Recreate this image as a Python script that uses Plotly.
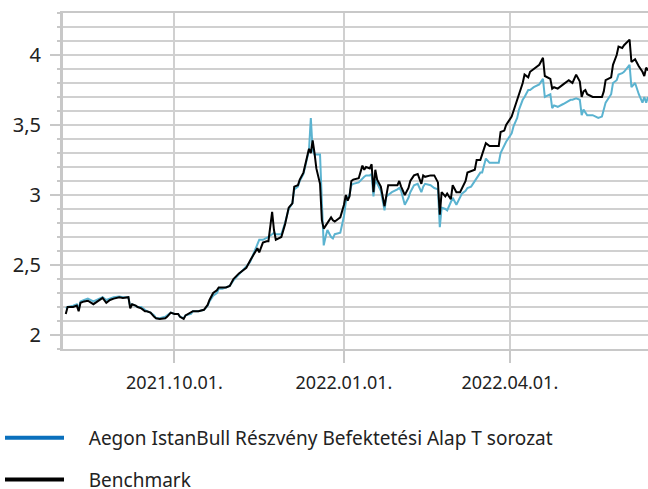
import plotly.graph_objects as go

dates = [
    "2021-08-03", "2021-08-04", "2021-08-07", "2021-08-09", "2021-08-10", "2021-08-11", "2021-08-13",
    "2021-08-15", "2021-08-18", "2021-08-21", "2021-08-23", "2021-08-25", "2021-08-27", "2021-08-29",
    "2021-09-01", "2021-09-03", "2021-09-06", "2021-09-07", "2021-09-08", "2021-09-10", "2021-09-11",
    "2021-09-13", "2021-09-15", "2021-09-16", "2021-09-18", "2021-09-20", "2021-09-21", "2021-09-23",
    "2021-09-26", "2021-09-27", "2021-09-29", "2021-10-01", "2021-10-03", "2021-10-04", "2021-10-06",
    "2021-10-07", "2021-10-10", "2021-10-11", "2021-10-14", "2021-10-17", "2021-10-19", "2021-10-20",
    "2021-10-22", "2021-10-24", "2021-10-25", "2021-10-27", "2021-10-29", "2021-10-31", "2021-11-02",
    "2021-11-05", "2021-11-07", "2021-11-09", "2021-11-11", "2021-11-13", "2021-11-15", "2021-11-16",
    "2021-11-18", "2021-11-20", "2021-11-21", "2021-11-23", "2021-11-24", "2021-11-25", "2021-11-28",
    "2021-11-30", "2021-12-02", "2021-12-04", "2021-12-05", "2021-12-07", "2021-12-08", "2021-12-10",
    "2021-12-12", "2021-12-13", "2021-12-14", "2021-12-15", "2021-12-16", "2021-12-17", "2021-12-19",
    "2021-12-20", "2021-12-21", "2021-12-22", "2021-12-23", "2021-12-25", "2021-12-26", "2021-12-27",
    "2021-12-29", "2021-12-30", "2022-01-01", "2022-01-02", "2022-01-03", "2022-01-04", "2022-01-05",
    "2022-01-06", "2022-01-09", "2022-01-11", "2022-01-12", "2022-01-13", "2022-01-15", "2022-01-16",
    "2022-01-17", "2022-01-18", "2022-01-19", "2022-01-21", "2022-01-23", "2022-01-24", "2022-01-25",
    "2022-01-27", "2022-01-30", "2022-01-31", "2022-02-01", "2022-02-03", "2022-02-05", "2022-02-06",
    "2022-02-08", "2022-02-10", "2022-02-12", "2022-02-13", "2022-02-14", "2022-02-17", "2022-02-19",
    "2022-02-21", "2022-02-22", "2022-02-23", "2022-02-25", "2022-02-26", "2022-02-28", "2022-03-01",
    "2022-03-03", "2022-03-05", "2022-03-06", "2022-03-08", "2022-03-09", "2022-03-11", "2022-03-13",
    "2022-03-14", "2022-03-16", "2022-03-17", "2022-03-19", "2022-03-21", "2022-03-23", "2022-03-26",
    "2022-03-27", "2022-03-29", "2022-03-30", "2022-04-02", "2022-04-03", "2022-04-05", "2022-04-06",
    "2022-04-08", "2022-04-09", "2022-04-11", "2022-04-12", "2022-04-14", "2022-04-17", "2022-04-19",
    "2022-04-20", "2022-04-23", "2022-04-24", "2022-04-25", "2022-04-27", "2022-04-30", "2022-05-03",
    "2022-05-04", "2022-05-05", "2022-05-07", "2022-05-09", "2022-05-10", "2022-05-11", "2022-05-12",
    "2022-05-13", "2022-05-16", "2022-05-19", "2022-05-21", "2022-05-22", "2022-05-23", "2022-05-26",
    "2022-05-27", "2022-05-29", "2022-05-30", "2022-06-01", "2022-06-02", "2022-06-05", "2022-06-06",
    "2022-06-08", "2022-06-09", "2022-06-10", "2022-06-12", "2022-06-13", "2022-06-14", "2022-06-15",
]

benchmark = [
    2.15, 2.20, 2.20, 2.21, 2.17, 2.23, 2.24,
    2.245, 2.22, 2.25, 2.265, 2.23, 2.25, 2.26,
    2.27, 2.265, 2.27, 2.19, 2.22, 2.21, 2.20,
    2.19, 2.17, 2.17, 2.16, 2.13, 2.12, 2.115,
    2.12, 2.13, 2.16, 2.15, 2.15, 2.13, 2.115,
    2.14, 2.16, 2.17, 2.17, 2.18, 2.215, 2.25,
    2.30, 2.32, 2.34, 2.34, 2.34, 2.35, 2.40,
    2.44, 2.46, 2.48, 2.53, 2.58, 2.62, 2.59,
    2.66, 2.67, 2.67, 2.88, 2.75, 2.68, 2.70,
    2.79, 2.91, 2.94, 3.06, 3.07, 3.11, 3.16,
    3.27, 3.33, 3.30, 3.39, 3.30, 3.19, 3.08,
    2.82, 2.76, 2.78, 2.80, 2.84, 2.82, 2.81,
    2.83, 2.84, 2.93, 3.00, 2.96, 2.99, 3.10,
    3.11, 3.12, 3.21, 3.18, 3.20, 3.19, 3.22,
    3.02, 3.18, 3.11, 3.06, 2.92, 3.00, 3.07,
    3.07, 3.07, 3.10, 3.06, 3.00, 3.05, 3.10,
    3.14, 3.15, 3.08, 3.14, 3.13, 3.14, 3.14,
    3.09, 2.86, 3.02, 2.99, 3.01, 2.97, 3.07,
    3.02, 3.02, 3.05, 3.10, 3.16, 3.17, 3.18,
    3.25, 3.25, 3.29, 3.37, 3.35, 3.35, 3.35,
    3.45, 3.46, 3.50, 3.56, 3.60, 3.68, 3.73,
    3.80, 3.86, 3.84, 3.88, 3.90, 3.93, 3.98,
    3.85, 3.83, 3.76, 3.77, 3.76, 3.79, 3.82,
    3.81, 3.80, 3.86, 3.81, 3.70, 3.74, 3.75,
    3.72, 3.70, 3.70, 3.70, 3.74, 3.82, 3.84,
    3.93, 4.00, 4.06, 4.05, 4.07, 4.11, 3.95,
    3.97, 3.94, 3.92, 3.88, 3.85, 3.91, 3.89,
]

fund = [
    2.19, 2.20, 2.21, 2.22, 2.19, 2.24, 2.25,
    2.26, 2.24, 2.26, 2.27, 2.25, 2.26, 2.27,
    2.275, 2.27, 2.27, 2.20, 2.22, 2.21, 2.20,
    2.20, 2.18, 2.17, 2.16, 2.14, 2.12, 2.12,
    2.13, 2.14, 2.16, 2.15, 2.15, 2.13, 2.12,
    2.14, 2.15, 2.17, 2.17, 2.18, 2.21, 2.24,
    2.28, 2.30, 2.33, 2.33, 2.34, 2.35, 2.39,
    2.43, 2.46, 2.49, 2.52, 2.58, 2.65, 2.68,
    2.68, 2.69, 2.70, 2.72, 2.73, 2.72, 2.72,
    2.80, 2.90, 2.94, 3.04, 3.06, 3.10, 3.15,
    3.26, 3.32, 3.55, 3.32, 3.29, 3.29, 3.29,
    2.95, 2.64, 2.70, 2.75, 2.70, 2.69, 2.72,
    2.73, 2.73, 2.85, 2.95, 2.98, 3.00, 3.07,
    3.08, 3.09, 3.12, 3.13, 3.14, 3.14, 3.15,
    2.99, 3.11, 3.08, 3.03, 2.89, 2.99, 3.00,
    3.02, 3.04, 3.05, 3.03, 2.93, 2.98, 3.02,
    3.07, 3.08, 3.02, 3.06, 3.08, 3.07, 3.05,
    3.04, 2.77, 2.91, 2.90, 2.89, 2.95, 2.98,
    2.93, 2.98, 3.01, 3.03, 3.05, 3.06, 3.10,
    3.12, 3.16, 3.16, 3.26, 3.23, 3.23, 3.23,
    3.30, 3.35, 3.38, 3.44, 3.49, 3.55, 3.61,
    3.68, 3.70, 3.75, 3.75, 3.77, 3.79, 3.83,
    3.70, 3.72, 3.62, 3.64, 3.63, 3.65, 3.67,
    3.68, 3.68, 3.69, 3.68, 3.57, 3.61, 3.59,
    3.57, 3.57, 3.55, 3.56, 3.62, 3.66, 3.72,
    3.80, 3.82, 3.86, 3.87, 3.88, 3.93, 3.77,
    3.80, 3.75, 3.72, 3.66, 3.70, 3.66, 3.70,
]

fund_name = "Aegon IstanBull Részvény Befektetési Alap T sorozat"
bench_name = "Benchmark"

GRID = "#d0d0d0"
AXIS = "#c8c8c8"
TEXT = "#222222"
PAD = "\u00a0" * 4  # gap between legend swatch and label

fig = go.Figure()
fig.add_trace(go.Scatter(x=dates, y=fund, mode="lines", name=fund_name,
                         line=dict(color="#5bb3d0", width=2), showlegend=False))
fig.add_trace(go.Scatter(x=dates, y=benchmark, mode="lines", name=bench_name,
                         line=dict(color="#000000", width=2), showlegend=False))
# legend entries
fig.add_trace(go.Scatter(x=[None], y=[None], mode="lines", name=PAD + fund_name,
                         line=dict(color="#0a70bd", width=4), legendgroup="a"))
fig.add_trace(go.Scatter(x=[None], y=[None], mode="lines", name=PAD + bench_name,
                         line=dict(color="#000000", width=4), legendgroup="b"))

fig.update_layout(
    width=648, height=489,
    margin=dict(l=63, r=0, t=13, b=140, autoexpand=False),
    paper_bgcolor="white", plot_bgcolor="white",
    separators=", ",
    font=dict(family="Noto Sans", color=TEXT, size=16),
    showlegend=True,
    legend=dict(x=-63 / 585, y=-0.208,
                xanchor="left", yanchor="top",
                orientation="v", itemwidth=59, tracegroupgap=14,
                bgcolor="rgba(0,0,0,0)",
                font=dict(size=19, color=TEXT, family="Noto Sans")),
    xaxis=dict(
        type="date", automargin=False,
        range=["2021-08-01 12:00", "2022-06-15"],
        tick0="2021-10-01", dtick="M3", tickformat="%Y.%m.%d.",
        showgrid=True, gridcolor=GRID, gridwidth=2,
        showline=True, linecolor=AXIS, linewidth=2, mirror=True,
        ticks="outside", ticklen=12, tickwidth=2, tickcolor=AXIS,
        tickfont=dict(size=18, color=TEXT),
        ticklabelstandoff=4,
        zeroline=False,
    ),
    yaxis=dict(
        range=[1.9, 4.3], automargin=False,
        tick0=2, dtick=0.5,
        showgrid=True, gridcolor=GRID, gridwidth=2,
        showline=True, linecolor=AXIS, linewidth=3,
        ticks="outside", ticklen=10, tickwidth=2, tickcolor=AXIS,
        minor=dict(dtick=0.1, tick0=2, showgrid=True, gridcolor=GRID, gridwidth=2,
                   ticks="outside", ticklen=3, tickwidth=2, tickcolor=AXIS),
        tickfont=dict(size=20, color=TEXT),
        ticklabelstandoff=5,
        zeroline=False,
    ),
)

fig.write_html(
    "out.html",
    config={"displayModeBar": False},
    post_script="document.body.style.margin='0';document.body.style.overflow='hidden';",
)
